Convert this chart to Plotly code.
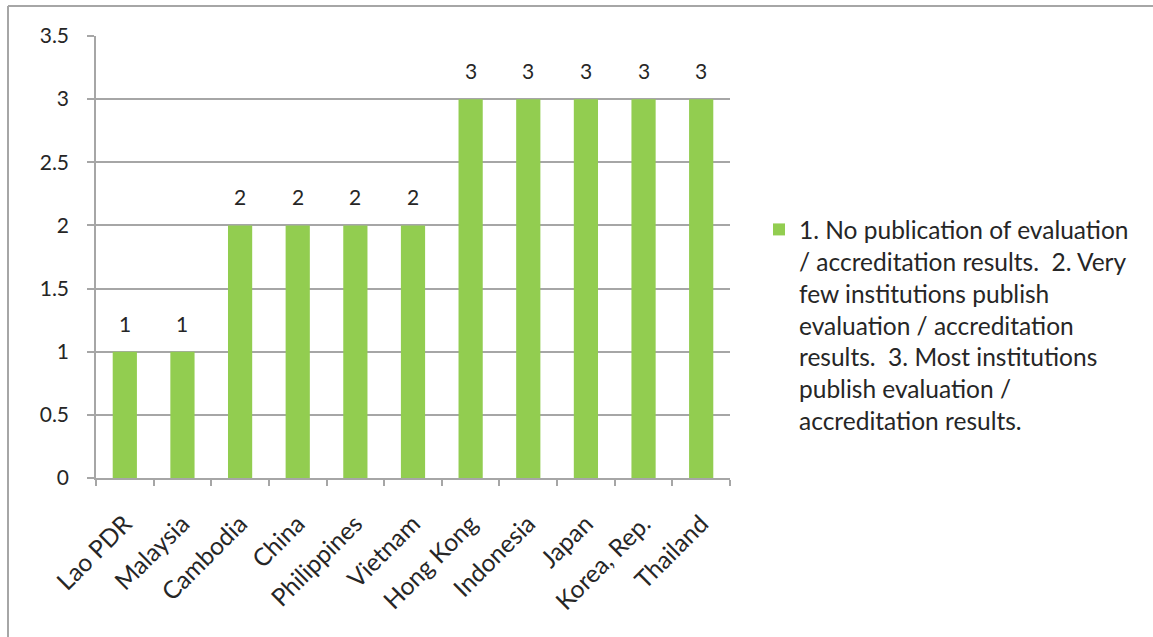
import plotly.graph_objects as go

# Chart data
countries = ["Lao PDR", "Malaysia", "Cambodia", "China", "Philippines", "Vietnam",
             "Hong Kong", "Indonesia", "Japan", "Korea, Rep.", "Thailand"]
scores = [1, 1, 2, 2, 2, 2, 3, 3, 3, 3, 3]
series_name = ("1. No publication of evaluation<br>/ accreditation results.  2. Very<br>"
               "few institutions publish<br>evaluation / accreditation<br>"
               "results.  3. Most institutions<br>publish evaluation /<br>"
               "accreditation results.")
y_ticks = [0, 0.5, 1, 1.5, 2, 2.5, 3, 3.5]
y_tick_text = ["0", "0.5", "1", "1.5", "2", "2.5", "3", "3.5"]

W, H = 1153, 637
ML, MR, MT, MB = 96, 423, 36, 159
PW, PH = W - ML - MR, H - MT - MB

BAR = "#92CD50"
GRID = "#A6A6A6"
TXT = "#262626"
FONT = "Lato"


def px_x(x):
    return (x - ML) / PW


def px_y(y):
    return (H - MB - y) / PH


fig = go.Figure()
fig.add_trace(go.Bar(
    x=countries, y=scores, name=series_name, marker_color=BAR,
    marker_line_width=0, showlegend=True,
))

# value labels above the bars
for c, v in zip(countries, scores):
    fig.add_annotation(x=c, y=v, text=str(v), showarrow=False, yanchor="bottom",
                       yshift=14, font=dict(family=FONT, size=21, color=TXT))

# chart frame (top and left edges)
fig.add_shape(type="line", xref="paper", yref="paper",
              x0=px_x(8), x1=px_x(W + 5), y0=px_y(6), y1=px_y(6),
              line=dict(color=GRID, width=2))
fig.add_shape(type="line", xref="paper", yref="paper",
              x0=px_x(8), x1=px_x(8), y0=px_y(6), y1=px_y(H + 5),
              line=dict(color=GRID, width=2))

fig.update_layout(
    width=W, height=H,
    margin=dict(l=ML, r=MR, t=MT, b=MB),
    paper_bgcolor="white", plot_bgcolor="white",
    bargap=0.58,
    font=dict(family=FONT, size=21, color=TXT),
    legend=dict(x=px_x(759), y=px_y(207), xanchor="left", yanchor="top",
                valign="top",
                font=dict(family=FONT, size=24.5, color=TXT),
                itemwidth=30, bgcolor="rgba(0,0,0,0)"),
    xaxis=dict(
        type="category", tickangle=-45, tickson="boundaries",
        ticks="outside", ticklen=6, tickcolor=GRID, tickwidth=1.5,
        showline=True, linecolor=GRID, linewidth=1.5,
        showgrid=False, tickfont=dict(family=FONT, size=24.5, color=TXT),
        ticklabelstandoff=20,
    ),
    yaxis=dict(
        range=[0, 3.5], tickvals=y_ticks, ticktext=y_tick_text,
        ticks="outside", ticklen=7, tickcolor=GRID, tickwidth=1.5,
        showline=True, linecolor=GRID, linewidth=1.5,
        showgrid=True, gridcolor=GRID, gridwidth=1.5, zeroline=False,
        tickfont=dict(family=FONT, size=21, color=TXT), ticklabelstandoff=14,
    ),
)

fig.write_html("out.html")
